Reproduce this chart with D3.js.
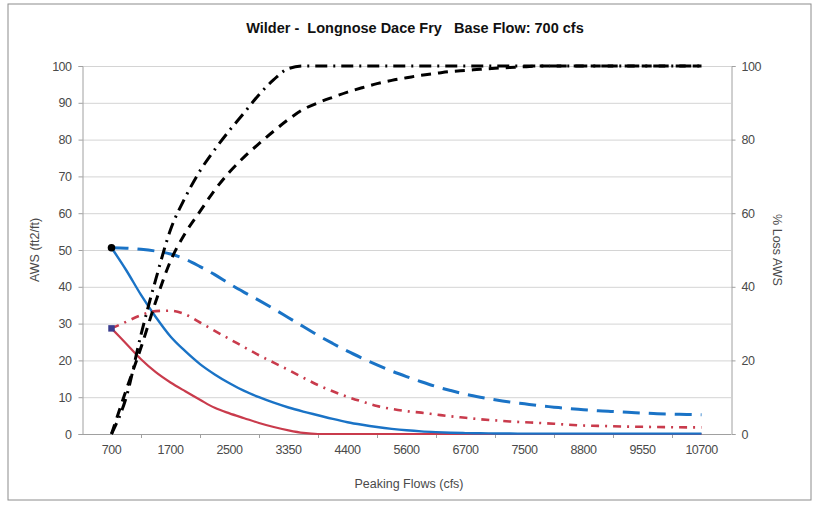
<!DOCTYPE html>
<html><head><meta charset="utf-8">
<script src="https://cdn.jsdelivr.net/npm/d3@7"></script>
<style>
body{margin:0;background:#fff;}
text{font-family:"Liberation Sans",Arial,sans-serif;}
</style></head>
<body><svg id="c" width="818" height="505"></svg>
<script>
// Category tick labels (Peaking Flows, cfs)
const categories = ["700","1700","2500","3350","4400","5600","6700","7500","8800","9550","10700"];
// Sample positions along the category axis (in category units, 0 = "700")
const positions = d3.range(0, 10.001, 0.25);
// AWS (ft2/ft) - left axis
const awsBlueSolid = [50.6,44.5,37.8,31.8,26.5,22.5,19.0,16.2,13.8,11.7,10.0,8.5,7.2,6.1,5.1,4.1,3.2,2.5,1.9,1.4,1.0,0.7,0.5,0.35,0.25,0.2,0.15,0.12,0.1,0.1,0.1,0.1,0.1,0.1,0.1,0.1,0.1,0.1,0.1,0.1,0.1];
const awsRedSolid = [28.7,24.5,20.3,16.8,14.0,11.6,9.3,7.1,5.6,4.3,3.0,1.9,1.0,0.3,0,0,0,0,0,0,0,0,0,0,0,0,0,0,0,0,0,0,0,0,0,0,0,0,0,0,0];
const awsBlueDashed = [50.6,50.5,50.2,49.7,48.9,47.5,45.5,43.3,40.8,38.5,36.3,34.0,31.6,29.2,26.8,24.6,22.5,20.6,18.8,17.1,15.6,14.2,12.9,11.8,10.8,10.0,9.3,8.7,8.2,7.7,7.3,6.9,6.6,6.3,6.1,5.9,5.7,5.5,5.4,5.3,5.2];
const awsRedDashDot = [28.7,30.5,32.3,33.4,33.5,32.5,30.3,28.0,25.8,23.6,21.4,19.4,17.4,15.3,13.3,11.6,10.1,8.8,7.6,6.8,6.2,5.8,5.3,4.8,4.4,4.0,3.7,3.4,3.2,3.0,2.8,2.5,2.3,2.2,2.1,2.0,1.95,1.9,1.85,1.8,1.8];
// % Loss AWS - right axis
const lossDashDot = [0,10,27,42,55.5,64.3,71.5,77.3,82.5,87.3,92.2,96.3,99.3,100,100,100,100,100,100,100,100,100,100,100,100,100,100,100,100,100,100,100,100,100,100,100,100,100,100,100,100];
const lossDashed = [0,12,23.5,36,47,54.6,60.5,66.3,71.2,75.3,78.9,82.3,85.5,88.2,90.0,91.5,92.9,94.1,95.2,96.1,96.8,97.5,98.0,98.5,98.8,99.1,99.4,99.6,99.8,100,100,100,100,100,100,100,100,100,100,100,100];
const leftTicks = [0,10,20,30,40,50,60,70,80,90,100];
const rightTicks = [0,20,40,60,80,100];

const svg = d3.select("#c");
const L = 82, R = 731, T = 66, B = 434;

svg.append("rect").attr("x",8).attr("y",4).attr("width",803).attr("height",496)
  .attr("fill","#fff").attr("stroke","#8c8c8c").attr("stroke-width",1);

const band = d3.scaleBand().domain(categories).range([L,R]).padding(0);
const x = d3.scaleLinear().domain([0,categories.length-1])
  .range([band(categories[0])+band.bandwidth()/2, band(categories[categories.length-1])+band.bandwidth()/2]);
const yL = d3.scaleLinear().domain([0,100]).range([B,T]);
const yR = d3.scaleLinear().domain([0,100]).range([B,T]);

// gridlines
svg.append("g").selectAll("line").data(leftTicks).join("line")
  .attr("x1",L).attr("x2",R).attr("y1",d=>yL(d)+0.5).attr("y2",d=>yL(d)+0.5)
  .attr("stroke",d=>d===0?"#a0a0a0":"#d4d4d4").attr("stroke-width",1);

// left axis
const gl = svg.append("g").attr("transform",`translate(${L+0.5},0)`)
  .call(d3.axisLeft(yL).tickValues(leftTicks).tickSize(4).tickPadding(7));
// right axis
const gr = svg.append("g").attr("transform",`translate(${R+0.5},0)`)
  .call(d3.axisRight(yR).tickValues(rightTicks).tickSize(4).tickPadding(6));
// bottom axis
const gb = svg.append("g").attr("transform",`translate(0,${B+0.5})`)
  .call(d3.axisBottom(band).tickSize(0).tickPadding(11));
// category boundary tick marks
svg.append("g").selectAll("line").data(categories.slice(1)).join("line")
  .attr("x1",d=>Math.round(band(d))+0.5).attr("x2",d=>Math.round(band(d))+0.5)
  .attr("y1",B).attr("y2",B+4).attr("stroke","#a0a0a0");

[gl,gr,gb].forEach(g=>{
  g.select(".domain").attr("stroke","#a0a0a0");
  g.selectAll(".tick line").attr("stroke","#a0a0a0");
  g.selectAll("text").attr("fill","#4a4a4a").style("font-size","12.5px").attr("letter-spacing","-0.5");
});
gb.select(".domain").remove();

const line = (yS, vals) => d3.line().curve(d3.curveMonotoneX)
  .x((d,i)=>x(positions[i])).y(d=>yS(d))(vals);

function draw(vals, yS, color, w, dash){
  svg.append("path").attr("d",line(yS,vals)).attr("fill","none")
    .attr("stroke",color).attr("stroke-width",w)
    .attr("stroke-dasharray",dash||null).attr("stroke-linecap","butt");
}
const blue = "#1a73c6", red = "#c93b4c";
draw(awsRedSolid, yL, red, 2.2);
draw(awsBlueSolid, yL, blue, 2.4);
draw(awsRedDashDot, yL, red, 2.6, "8,6,2,6");
draw(awsBlueDashed, yL, blue, 3, "17,9");
draw(lossDashed, yR, "#000", 3, "10,7");
draw(lossDashDot, yR, "#000", 3, "12,6,2,6");

// markers at first points
svg.append("circle").attr("cx",x(positions[0])).attr("cy",yL(awsBlueSolid[0])).attr("r",3.8).attr("fill","#000");
svg.append("path").attr("d",d3.symbol(d3.symbolSquare,42)())
  .attr("transform",`translate(${x(positions[0])},${yL(awsRedSolid[0])})`).attr("fill","#3a3d8f");

// titles
svg.append("text").attr("x",415).attr("y",33).attr("text-anchor","middle")
  .style("font-size","14.5px").style("font-weight","bold").style("white-space","pre").attr("fill","#111")
  .text("Wilder -  Longnose Dace Fry   Base Flow: 700 cfs");
svg.append("text").attr("x",409).attr("y",488).attr("text-anchor","middle")
  .style("font-size","12.5px").attr("fill","#4a4a4a").text("Peaking Flows (cfs)");
svg.append("text").attr("transform","translate(39,250) rotate(-90)").attr("text-anchor","middle")
  .style("font-size","12.5px").attr("fill","#4a4a4a").text("AWS (ft2/ft)");
svg.append("text").attr("transform","translate(773,250) rotate(90)").attr("text-anchor","middle")
  .style("font-size","12.5px").attr("fill","#4a4a4a").text("% Loss AWS");
</script></body></html>
